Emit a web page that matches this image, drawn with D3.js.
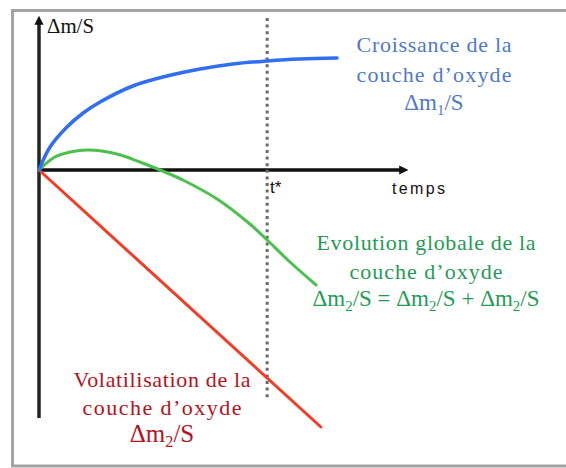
<!DOCTYPE html>
<html>
<head>
<meta charset="utf-8">
<script src="https://cdn.jsdelivr.net/npm/d3@7"></script>
<style>
  html, body { margin: 0; padding: 0; background: #fff; }
  svg { display: block; }
</style>
</head>
<body>
<svg id="chart" width="566" height="468"></svg>
<script>
// ---- data (time units, mass-change units) ----
const growthT = [0, 3.0, 7.6, 12, 16.6, 25.5, 34.8, 43.8, 52.7, 62, 70.9, 81];
const growthV = [0, 23, 43, 57, 68, 84, 94, 101, 106, 109, 111, 112];
const globalT = [0, 4.3, 8.5, 13.3, 21.2, 27.4, 32.9, 39.1, 48.4, 57.3, 62, 68.2, 75.3];
const globalV = [0, 13, 18, 20, 16, 8, 0, -10, -29, -54, -70, -92, -115];
const volatT = [0, 76.6];
const volatV = [0, -257];
const tStar = 62;
const tStarSpan = [152, -228];
const axisX = [0, 100];
const axisY = [-248, 153];

const yLabel = "Δm/S";
const xLabel = "temps";
const tStarLabel = "t*";
const growthLabel = ["Croissance de la", "couche d’oxyde"];
const globalLabel = ["Evolution globale de la", "couche d’oxyde"];
const volatLabel = ["Volatilisation de la", "couche d’oxyde"];

// ---- drawing ----
const svg = d3.select("#chart");
const x = d3.scaleLinear().domain(axisX).range([39, 407]);
const y = d3.scaleLinear().domain(axisY).range([418, 17]);

svg.append("rect")
  .attr("x", 12.5).attr("y", 10.5).attr("width", 560).attr("height", 455.5)
  .attr("fill", "none").attr("stroke", "#a3a3a3").attr("stroke-width", 3);

const defs = svg.append("defs");
defs.append("marker")
  .attr("id", "arrow").attr("viewBox", "0 0 10 10")
  .attr("refX", 2).attr("refY", 5)
  .attr("markerWidth", 2.6).attr("markerHeight", 2.6)
  .attr("markerUnits", "strokeWidth")
  .attr("orient", "auto")
  .append("path").attr("d", "M0,0L10,5L0,10Z").attr("fill", "#111");

const gx = svg.append("g").attr("transform", `translate(0,${y(0)})`)
  .call(d3.axisBottom(x).tickValues([]).tickSizeOuter(0));
gx.attr("font-family", null).attr("font-size", null).attr("text-anchor", null);
gx.select(".domain").attr("stroke", "#111").attr("stroke-width", 3.5)
  .attr("d", `M${x(axisX[0])},0H${x(axisX[1]) - 6}`)
  .attr("marker-end", "url(#arrow)");

const gy = svg.append("g").attr("transform", `translate(${x(0)},0)`)
  .call(d3.axisLeft(y).tickValues([]).tickSizeOuter(0));
gy.attr("font-family", null).attr("font-size", null).attr("text-anchor", null);
gy.select(".domain").attr("stroke", "#222").attr("stroke-width", 3.5)
  .attr("d", `M0,${y(axisY[0])}V${y(axisY[1]) + 6}`)
  .attr("marker-end", "url(#arrow)");

svg.append("line")
  .attr("x1", x(tStar)).attr("x2", x(tStar))
  .attr("y1", y(tStarSpan[0])).attr("y2", y(tStarSpan[1]))
  .attr("stroke", "#6a6a6a").attr("stroke-width", 3)
  .attr("stroke-dasharray", "3,3.6");

const line = d3.line().x(d => x(d[0])).y(d => y(d[1])).curve(d3.curveCatmullRom.alpha(0.5));

svg.append("path").datum(d3.zip(volatT, volatV))
  .attr("d", line).attr("fill", "none")
  .attr("stroke", "#f43c24").attr("stroke-width", 3).attr("stroke-linecap", "round");
svg.append("path").datum(d3.zip(globalT, globalV))
  .attr("d", line).attr("fill", "none")
  .attr("stroke", "#4cc04c").attr("stroke-width", 3).attr("stroke-linecap", "round");
svg.append("path").datum(d3.zip(growthT, growthV))
  .attr("d", line).attr("fill", "none")
  .attr("stroke", "#2f6ff0").attr("stroke-width", 3.5).attr("stroke-linecap", "round");

svg.append("text").attr("x", 47).attr("y", 33)
  .style("font-family", "Liberation Serif")
  .style("font-size", "20px").attr("fill", "#111")
  .attr("textLength", 47).attr("lengthAdjust", "spacingAndGlyphs")
  .text(yLabel);
svg.append("text").attr("x", 392).attr("y", 194)
  .style("font-family", "Liberation Sans")
  .style("font-size", "16px").attr("fill", "#111")
  .attr("textLength", 53).attr("lengthAdjust", "spacing")
  .text(xLabel);
svg.append("text").attr("x", 270).attr("y", 193)
  .style("font-family", "Liberation Sans")
  .style("font-size", "17px").attr("fill", "#111")
  .text(tStarLabel);

function block(cx, baselines, widths, lines, sub, size, subSize, color) {
  lines.forEach((t, i) => {
    svg.append("text").attr("x", cx).attr("y", baselines[i])
      .attr("text-anchor", "middle")
      .style("font-family", "Liberation Serif")
      .style("font-size", size + "px").attr("fill", color)
      .attr("textLength", widths[i]).attr("lengthAdjust", "spacing")
      .text(t);
  });
  const t = svg.append("text").attr("x", cx).attr("y", baselines[lines.length])
    .attr("text-anchor", "middle")
    .style("font-family", "Liberation Serif")
    .style("font-size", subSize + "px").attr("fill", color);
  sub.forEach(part => {
    t.append("tspan").text(part[0]);
    t.append("tspan").style("font-size", (subSize * 0.65) + "px").attr("dy", 5).text(part[1]);
    t.append("tspan").attr("dy", -5).text(part[2]);
  });
}

block(434, [52, 82, 110], [155, 155], growthLabel, [["Δm", "1", "/S"]], 22, 23, "#4f79c4");
block(426, [250, 279, 306], [219, 153], globalLabel,
  [["Δm", "2", "/S = "], ["Δm", "2", "/S + "], ["Δm", "2", "/S"]], 22, 23, "#1f9b57");
block(162, [387, 415, 442], [177, 159], volatLabel, [["Δm", "2", "/S"]], 22, 25, "#b3121e");
</script>
</body>
</html>
